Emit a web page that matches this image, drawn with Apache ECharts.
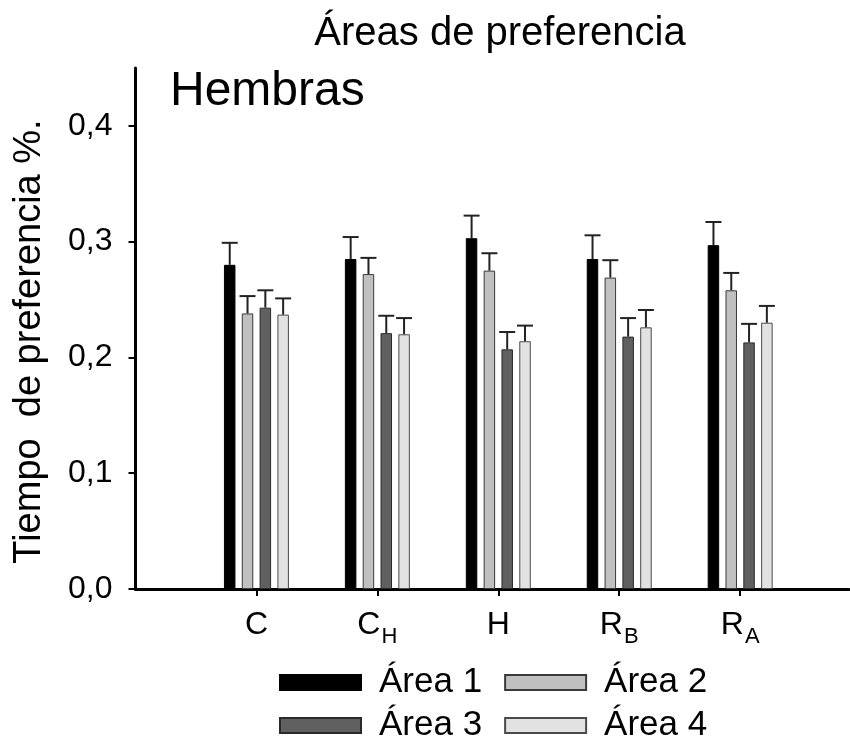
<!DOCTYPE html>
<html>
<head>
<meta charset="utf-8">
<script src="https://cdn.jsdelivr.net/npm/echarts@6/dist/echarts.min.js"></script>
<style>
html,body{margin:0;padding:0;background:#fff;}
#c{width:850px;height:744px;}
</style>
</head>
<body>
<div id="c"></div>
<script>
// ---- data ----
var catMain = ['C', 'C', 'H', 'R', 'R'];
var catSub  = ['',  'H', '',  'B', 'A'];
var xPos = [1, 2, 3, 4, 5];
var seriesNames = ['Área 1', 'Área 2', 'Área 3', 'Área 4'];
var area1 = [0.280, 0.285, 0.303, 0.285, 0.297];
var area2 = [0.238, 0.272, 0.275, 0.269, 0.258];
var area3 = [0.243, 0.221, 0.207, 0.218, 0.213];
var area4 = [0.237, 0.220, 0.214, 0.226, 0.230];
var err1 = [0.019, 0.019, 0.0195, 0.0205, 0.020];
var err2 = [0.015, 0.014, 0.015, 0.015, 0.015];
var err3 = [0.015, 0.015, 0.015, 0.016, 0.016];
var err4 = [0.014, 0.014, 0.0135, 0.015, 0.0145];
var yTicks = [0, 0.1, 0.2, 0.3, 0.4];

var FONT = "'Liberation Sans', Arial, sans-serif";
var colors = ['#000000', '#c0c0c0', '#606060', '#e2e2e2'];
var borders = ['#000000', '#3a3a3a', '#2a2a2a', '#4a4a4a'];
var means = [area1, area2, area3, area4];
var errs = [err1, err2, err3, err4];
var spacing = 17.8;

var chart = echarts.init(document.getElementById('c'), null, {renderer: 'canvas'});

var series = [];
means.forEach(function (arr, si) {
  series.push({
    name: seriesNames[si],
    type: 'bar',
    barWidth: 11.5,
    barGap: '55%',
    itemStyle: {color: colors[si], borderColor: borders[si], borderWidth: 1},
    data: xPos.map(function (x, i) { return [x, arr[i]]; }),
    z: 2
  });
});
means.forEach(function (arr, si) {
  series.push({
    type: 'custom',
    name: 'err' + si,
    z: 3,
    silent: true,
    renderItem: function (params, api) {
      var x = api.value(0), m = api.value(1), e = api.value(2);
      var p0 = api.coord([x, m]);
      var p1 = api.coord([x, m + e]);
      var cx = p0[0] + (si - 1.5) * spacing;
      return {
        type: 'group',
        children: [
          {type: 'line', shape: {x1: cx, y1: p0[1], x2: cx, y2: p1[1]}, style: {stroke: '#222', lineWidth: 2}},
          {type: 'line', shape: {x1: cx - 8, y1: p1[1], x2: cx + 8, y2: p1[1]}, style: {stroke: '#222', lineWidth: 2}}
        ]
      };
    },
    data: xPos.map(function (x, i) { return [x, arr[i], errs[si][i]]; })
  });
});

var option = {
  backgroundColor: '#fff',
  animation: false,
  title: [
    {text: 'Áreas de preferencia', left: 500, top: 14, textAlign: 'center', padding: 0,
     textStyle: {fontSize: 40, fontWeight: 'normal', color: '#000', fontFamily: FONT}},
    {text: 'Hembras', left: 170, top: 68, padding: 0,
     textStyle: {fontSize: 48, fontWeight: 'normal', color: '#000', fontFamily: FONT}}
  ],
  legend: [
    {data: [seriesNames[0], seriesNames[1]], left: 279, top: 665, padding: 0, orient: 'horizontal',
     icon: 'rect', itemWidth: 81, itemHeight: 15, itemGap: 22,
     textStyle: {fontSize: 35, color: '#000', fontFamily: FONT, padding: [0, 0, 0, 13]}},
    {data: [seriesNames[2], seriesNames[3]], left: 279, top: 708, padding: 0, orient: 'horizontal',
     icon: 'rect', itemWidth: 81, itemHeight: 15, itemGap: 22,
     textStyle: {fontSize: 35, color: '#000', fontFamily: FONT, padding: [0, 0, 0, 13]}}
  ],
  grid: {left: 135.5, right: 1, top: 68, bottom: 155, outerBoundsMode: 'none', containLabel: false},
  xAxis: {
    type: 'value', min: 0, max: 5.9, interval: 1,
    splitLine: {show: false},
    axisLine: {show: true, onZero: false, lineStyle: {color: '#000', width: 3}},
    axisTick: {show: true, length: 7, customValues: xPos, lineStyle: {color: '#000', width: 2}},
    axisLabel: {
      customValues: xPos, margin: 14, color: '#000',
      formatter: function (v) {
        var i = xPos.indexOf(v);
        if (i < 0) return '';
        return '{m|' + catMain[i] + '}' + (catSub[i] ? '{s|' + catSub[i] + '}' : '');
      },
      rich: {
        m: {fontSize: 32, lineHeight: 45, fontFamily: FONT, color: '#000'},
        s: {fontSize: 22, lineHeight: 22, padding: [23, 0, 0, 1], fontFamily: FONT, color: '#000'}
      }
    }
  },
  yAxis: {
    type: 'value', min: 0, max: 0.45, interval: 0.1,
    name: 'Tiempo  de preferencia %.', nameLocation: 'middle', nameGap: 87,
    nameTextStyle: {fontSize: 38, color: '#000', fontFamily: FONT, padding: [0, 26, 0, 0]},
    splitLine: {show: false},
    axisLine: {show: true, lineStyle: {color: '#000', width: 3}},
    axisTick: {show: true, length: 7, customValues: yTicks, lineStyle: {color: '#000', width: 2}},
    axisLabel: {
      customValues: yTicks, margin: 23, fontSize: 32, color: '#000', fontFamily: FONT,
      formatter: function (v) { return v.toFixed(1).replace('.', ','); }
    }
  },
  series: series
};
chart.setOption(option);
</script>
</body>
</html>
